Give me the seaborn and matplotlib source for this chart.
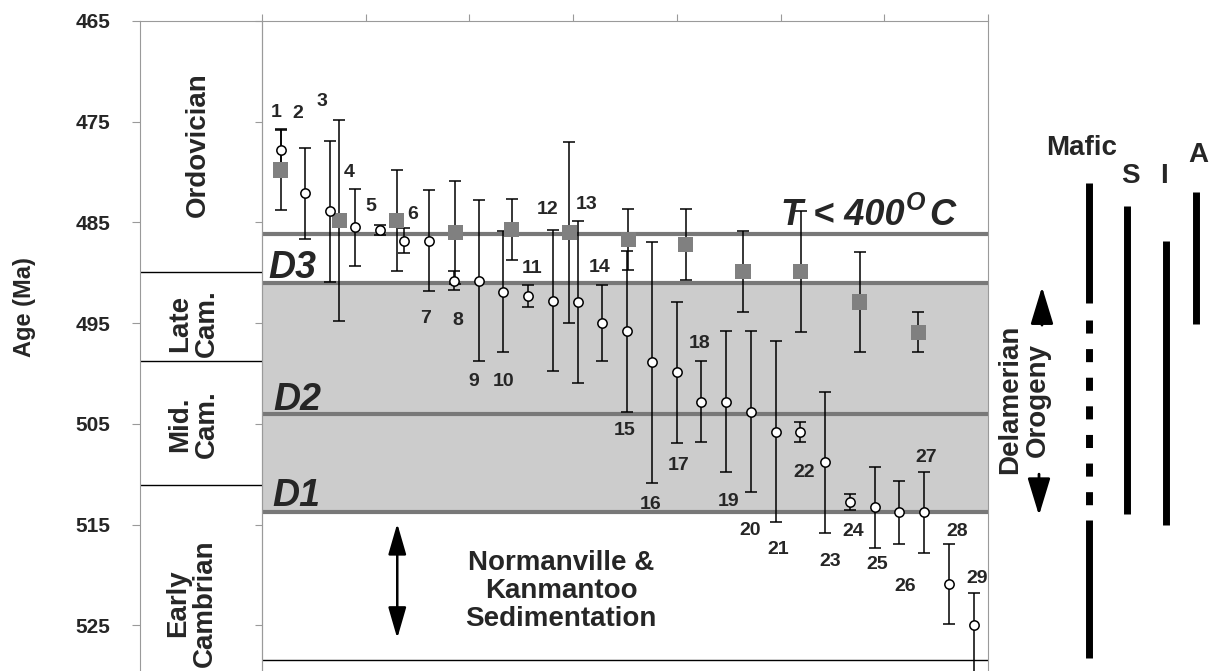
import matplotlib
matplotlib.use('Agg')
import matplotlib.pyplot as plt
import seaborn as sns
import numpy as np
import pandas as pd

# individual zircon/mineral ages, samples 1-29 (open circles)
circle_id = list(range(1, 30))
circle_age = [477.8, 482.1, 483.9, 485.5, 485.8, 486.8, 486.8, 490.8, 490.8, 491.9,
              492.3, 492.8, 492.9, 495.0, 495.8, 498.9, 499.9, 502.8, 502.8, 503.8,
              505.8, 505.8, 508.8, 512.8, 513.3, 513.8, 513.8, 520.9, 525.0]
circle_err = [2.1, 4.5, 7.0, 3.8, 0.5, 1.2, 5.0, 0.95, 8.0, 6.0,
              1.1, 7.0, 8.0, 3.8, 8.0, 12.0, 7.0, 4.0, 7.0, 8.0,
              9.0, 1.0, 7.0, 0.8, 4.0, 3.1, 4.0, 4.0, 3.2]
circle_err_old = circle_err[:-1] + [5.0]

# cooling ages (grey squares)
square_x = [1.0, 3.37, 5.69, 8.05, 10.33, 12.66, 15.04, 17.36, 19.68, 22.01, 24.39, 26.77]
square_age = [479.8, 484.8, 484.8, 486.0, 485.7, 486.0, 486.7, 487.2, 489.9, 489.9, 492.9, 495.9]
square_err = [4.0, 10.0, 5.0, 5.1, 3.0, 9.0, 3.0, 3.5, 4.0, 6.0, 5.0, 2.0]

# where each sample number is written (x, age)
label_pos = [(0.81, 474.1), (1.69, 474.2), (2.66, 473.0), (3.77, 480.0), (4.64, 483.4),
             (6.32, 484.2), (6.87, 494.5), (8.16, 494.7), (8.81, 500.8), (9.99, 500.8),
             (11.15, 489.6), (11.8, 483.7), (13.38, 483.2), (13.88, 489.5), (14.91, 505.7),
             (15.95, 513.0), (17.07, 509.1), (17.94, 497.0), (19.11, 512.7), (19.96, 515.6),
             (21.11, 517.5), (22.15, 509.8), (23.2, 518.7), (24.13, 515.7), (25.12, 519.0),
             (26.23, 521.2), (27.1, 508.3), (28.35, 515.7), (29.15, 520.4)]

tick_ages = [465, 475, 485, 495, 505, 515, 525]
period_bounds = [489.9, 498.8, 511.1]
period_names = ['Ordovician', 'Late\nCam.', 'Mid.\nCam.', 'Early\nCambrian']
period_pos = [(0.475, 477.3), (0.44, 495.0), (0.44, 505.0), (0.42, 522.8)]

t_line = 486.2
deform_names = ['D3', 'D2', 'D1']
deform_age = [491.0, 504.0, 513.8]

# magmatism ranges on the right
magma_names = ['S', 'I', 'A']
magma_start = [483.4, 486.8, 482.0]
magma_end = [514.0, 515.0, 495.1]
mafic_solid = [(481.1, 493.0), (514.55, 528.3)]
mafic_dashed = (494.7, 514.55)

sns.set_theme(style='white')
plt.rcParams['font.family'] = ['Liberation Sans', 'DejaVu Sans']
plt.rcParams['font.weight'] = 'bold'

W, H = 1209, 671
age_bottom = 465 + 650 / 10.07
top = 650 / H
grey = '#9a9a9a'

fig = plt.figure(figsize=(W / 100, H / 100), dpi=100)
ax = fig.add_axes([262 / W, 0, 726 / W, top])
ax_l = fig.add_axes([140 / W, 0, 122 / W, top])
ax_r = fig.add_axes([988 / W, 0, 221 / W, top])
for a in (ax, ax_l, ax_r):
    a.set_ylim(age_bottom, 465)
    a.set_facecolor('none')

# main panel
x0, x1 = 0.2444, 29.58
ax.set_xlim(x0, x1)
ax.axhspan(deform_age[0], deform_age[2], color='#cccccc', lw=0, zorder=0)
for a in [t_line] + deform_age:
    ax.axhline(a, color='#787878', lw=3, zorder=1)
ax.axhline(528.5, color='black', lw=1, zorder=1)

ax.errorbar(square_x, square_age, yerr=square_err, fmt='none', ecolor='black',
            elinewidth=1.1, capsize=4.3, capthick=1.1, zorder=2)
ax.errorbar(circle_id, circle_age, yerr=[circle_err, circle_err_old], fmt='none',
            ecolor='black', elinewidth=1.1, capsize=4.3, capthick=1.1, zorder=2)
sq = pd.DataFrame({'x': square_x, 'age': square_age})
ci = pd.DataFrame({'x': circle_id, 'age': circle_age})
sns.scatterplot(data=sq, x='x', y='age', marker='s', s=120, color='#808080',
                edgecolor='none', ax=ax, zorder=3)
sns.scatterplot(data=ci, x='x', y='age', marker='o', s=45, color='white',
                edgecolor='black', linewidth=1.1, ax=ax, zorder=4)

for i, (lx, ly) in enumerate(label_pos):
    ax.text(lx, ly, str(circle_id[i]), fontsize=14, fontweight='bold',
            ha='center', va='center', zorder=5)

deform_label_x = [0.49, 0.69, 0.65]
deform_label_y = [490.5, 503.6, 513.2]
for name, lx, ly in zip(deform_names, deform_label_x, deform_label_y):
    ax.text(lx, ly, name, fontsize=27, fontweight='bold', style='italic',
            ha='left', va='baseline', zorder=5)

t1 = ax.text(21.21, 485.3, 'T < 400', fontsize=26, fontweight='bold', style='italic',
             ha='left', va='baseline', zorder=5)
t2 = ax.annotate('O', xy=(1, 0), xycoords=t1, xytext=(1, 13), textcoords='offset points',
                 fontsize=18, fontweight='bold', style='italic', ha='left', va='bottom')
ax.annotate('C', xy=(1, 0), xycoords=(t2, t1), xytext=(3, 0), textcoords='offset points',
            fontsize=26, fontweight='bold', style='italic', ha='left', va='bottom')

ax.annotate('', xy=(5.71, 514.9), xytext=(5.71, 526.3),
            arrowprops=dict(arrowstyle='<|-|>,head_length=1.9,head_width=0.55',
                            mutation_scale=10, color='black', lw=1.8,
                            shrinkA=0, shrinkB=0))
ax.text(12.33, 521.6, 'Normanville &\nKanmantoo\nSedimentation', fontsize=20,
        fontweight='bold', ha='center', va='center', linespacing=1.1)

ax.set_xticks(np.linspace(x0, x1, 8))
ax.set_yticks(tick_ages)
ax.xaxis.set_ticks_position('top')
ax.tick_params(axis='x', top=True, bottom=False, length=5, width=0.8, color=grey,
               labeltop=False, labelbottom=False, direction='out')
ax.tick_params(axis='y', left=True, length=5, width=0.8, color=grey,
               labelleft=False, direction='out')
ax.set_xlabel('')
ax.set_ylabel('')
for s in ['top', 'left', 'right']:
    ax.spines[s].set_color(grey)
    ax.spines[s].set_linewidth(0.8)
ax.spines['bottom'].set_visible(False)

# period column
ax_l.set_xlim(0, 1)
ax_l.set_xticks([])
ax_l.set_yticks(tick_ages)
ax_l.tick_params(axis='y', left=True, length=5.8, width=0.8, color=grey, pad=15.8,
                 labelsize=15)
for lab in ax_l.get_yticklabels():
    lab.set_fontweight('bold')
for s in ['top', 'left', 'right']:
    ax_l.spines[s].set_color(grey)
    ax_l.spines[s].set_linewidth(0.8)
ax_l.spines['bottom'].set_visible(False)
for b in period_bounds:
    ax_l.axhline(b, color='black', lw=1)
for name, (px, py) in zip(period_names, period_pos):
    ax_l.text(px, py, name, rotation=90, fontsize=20, fontweight='bold',
              ha='center', va='center', linespacing=1.05, multialignment='center')

fig.text(24 / W, 1 - 307 / H, 'Age (Ma)', rotation=90, fontsize=17, fontweight='bold',
         ha='center', va='center')

# magmatism panel
ax_r.set_xlim(988, 1209)
ax_r.axis('off')
mafic_x = 1089
for a0, a1 in mafic_solid:
    ax_r.plot([mafic_x, mafic_x], [a0, a1], color='black', lw=5, solid_capstyle='butt')
ax_r.plot([mafic_x, mafic_x], list(mafic_dashed), color='black', lw=5,
          linestyle=(0, (1.88, 2.24)), dash_capstyle='butt')
magma_x = [1127, 1166, 1196]
for mx, a0, a1 in zip(magma_x, magma_start, magma_end):
    ax_r.plot([mx, mx], [a0, a1], color='black', lw=5, solid_capstyle='butt')

ax_r.text(1082, 477.6, 'Mafic', fontsize=20, fontweight='bold', ha='center', va='center')
for name, lx, ly in zip(magma_names, [1130, 1164.5, 1198], [480.4, 480.4, 478.3]):
    ax_r.text(lx, ly, name, fontsize=20, fontweight='bold', ha='center', va='center')

ax_r.text(1024, 502.6, 'Delamerian\nOrogeny', rotation=90, fontsize=20, fontweight='bold',
          ha='center', va='center', linespacing=1.1, multialignment='center')
ax_r.annotate('', xy=(1042, 491.4), xytext=(1042, 495.2),
              arrowprops=dict(arrowstyle='-|>,head_length=2.3,head_width=0.7',
                              mutation_scale=10, color='black', lw=2,
                              shrinkA=0, shrinkB=0))
ax_r.annotate('', xy=(1039, 514.1), xytext=(1039, 510.0),
              arrowprops=dict(arrowstyle='-|>,head_length=2.3,head_width=0.7',
                              mutation_scale=10, color='black', lw=2,
                              shrinkA=0, shrinkB=0))

fig.savefig('out.png', dpi=100)
plt.close(fig)
